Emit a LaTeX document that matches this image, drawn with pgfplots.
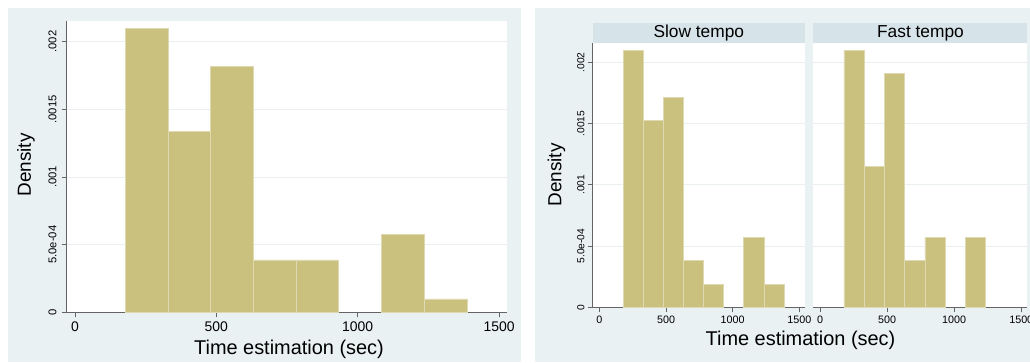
\documentclass[border=0pt]{standalone}
\usepackage{pgfplots}
\pgfplotsset{compat=1.18}
\usepackage{fontspec}
\setmainfont{Liberation Sans}
\definecolor{bgc}{RGB}{234,241,243}
\definecolor{stripc}{RGB}{214,227,233}
\definecolor{barc}{RGB}{201,193,125}
\definecolor{barline}{RGB}{222,217,178}
\definecolor{gridc}{RGB}{234,240,242}
\definecolor{axc}{RGB}{100,100,100}
\pgfplotsset{
  statabase/.style={
    anchor=south west, scale only axis,
    ymin=0,
    axis x line*=bottom, axis y line*=left,
    axis line style={axc, line width=0.8bp, -},
    tick align=outside, major tick length=5bp,
    tick style={axc, line width=0.8bp},
    xtick={0,500,1000,1500}, xticklabels={0,500,1000,1500},
    ytick={0,0.0005,0.001,0.0015,0.002},
    ymajorgrids, grid style={gridc, line width=0.9bp},
    axis background/.style={fill=white},
    yticklabel style={rotate=90, anchor=south, inner sep=0pt},
    xticklabel style={anchor=north, inner sep=0pt},
    scaled y ticks=false,
  },
  histbar/.style={ybar interval, fill=barc, draw=barline, line width=0.7bp},
}
\begin{document}
\begin{tikzpicture}[x=1bp,y=1bp]
\useasboundingbox (0,0) rectangle (1030,362);
\fill[bgc] (8,0) rectangle (521,354);
\fill[bgc] (535,0) rectangle (1030,354);
\fill[stripc] (592.7,319) rectangle (805,339);
\fill[stripc] (813.3,319) rectangle (1027,339);

% ---------- left panel ----------
\begin{axis}[statabase,
  at={(66.7bp,49.7bp)}, width=440.3bp, height=291.6bp,
  xmin=-29, xmax=1528, ymax=0.002155,
  yticklabels={0,5.0e-04,.001,.0015,.002},
  yticklabel style={font=\fontsize{11.3}{12}\selectfont},
  xticklabel style={font=\fontsize{14}{14}\selectfont},
  yticklabel shift=5bp, xticklabel shift=4.5bp,
]
\addplot[histbar] coordinates {(178,0.002098) (329,0.001337) (480,0.001815) (631,0.000387) (782,0.000387) (933,0.000387)};
\addplot[histbar] coordinates {(1084,0.000576) (1235,0.0000985) (1386,0.0000985)};
\end{axis}
\node[rotate=90, font=\fontsize{19}{19}\selectfont] at (26,197) {Density};
\node[font=\fontsize{20}{20}\selectfont] at (289,13) {Time estimation (sec)};

% ---------- right panel: slow ----------
\begin{axis}[statabase,
  at={(592.7bp,54.7bp)}, width=212.3bp, height=264.3bp,
  xmin=-50, xmax=1543, ymax=0.002158,
  yticklabels={0,5.0e-04,.001,.0015,.002},
  yticklabel style={font=\fontsize{10.3}{11}\selectfont},
  xticklabel style={font=\fontsize{10.8}{11}\selectfont},
  yticklabel shift=3bp, xticklabel shift=3bp,
]
\addplot[histbar] coordinates {(178,0.0021) (329,0.001523) (480,0.001714) (631,0.00038) (782,0.000188) (933,0.000188)};
\addplot[histbar] coordinates {(1084,0.000571) (1235,0.000188) (1386,0.000188)};
\end{axis}

% ---------- right panel: fast ----------
\begin{axis}[statabase,
  at={(813.3bp,54.7bp)}, width=213.7bp, height=264.3bp,
  xmin=-50, xmax=1543, ymax=0.002158,
  yticklabels={},
  y axis line style={draw=none},
  ytick style={draw=none},
  xticklabel style={font=\fontsize{10.8}{11}\selectfont},
  xticklabel shift=3bp,
]
\addplot[histbar] coordinates {(178,0.0021) (329,0.001148) (480,0.00191) (631,0.00038) (782,0.000571) (933,0.000571)};
\addplot[histbar] coordinates {(1084,0.000571) (1235,0.000571)};
\end{axis}

\node[font=\fontsize{17.4}{17.4}\selectfont] at (698.8,329) {Slow tempo};
\node[font=\fontsize{17.4}{17.4}\selectfont] at (920.5,329) {Fast tempo};
\node[rotate=90, font=\fontsize{19}{19}\selectfont] at (556.5,187) {Density};
\node[font=\fontsize{20}{20}\selectfont] at (800.5,22) {Time estimation (sec)};
\end{tikzpicture}
\end{document}
